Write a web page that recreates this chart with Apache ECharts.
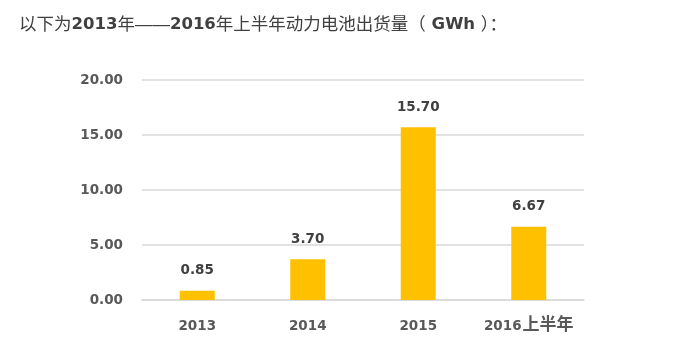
<!DOCTYPE html>
<html><head><meta charset="utf-8">
<script src="https://cdn.jsdelivr.net/npm/echarts@6/dist/echarts.min.js"></script>
<style>html,body{margin:0;padding:0;background:#fff;}#c{width:683px;height:356px;}</style>
</head><body><div id="c"></div>
<script>
const titleText = '以下为2013年——2016年上半年动力电池出货量（ GWh ）：';
const categories = ['2013', '2014', '2015', '2016上半年'];
const shipments = [0.85, 3.70, 15.70, 6.67];
const yTicks = [0, 5, 10, 15, 20];

// split text into latin (n) and CJK (c) runs for rich text styling
function richify(s) {
  return s.replace(/([A-Za-z0-9 .]+)|([^A-Za-z0-9 .]+)/g, (m, a, b) => a ? '{n|' + a + '}' : '{c|' + b + '}');
}

const numFont = '"DejaVu Sans", sans-serif';
const cjkFont = '"Liberation Sans", "Noto Sans CJK SC", sans-serif';
const chart = echarts.init(document.getElementById('c'));
chart.setOption({
  animation: false,
  title: {
    text: richify(titleText), left: 14, top: 10,
    textStyle: {
      rich: {
        n: { fontSize: 16.5, fontWeight: 'bold', color: '#404040', fontFamily: numFont, lineHeight: 20, verticalAlign: 'middle' },
        c: { fontSize: 17.5, fontWeight: 'normal', color: '#404040', fontFamily: cjkFont, lineHeight: 20, verticalAlign: 'middle' }
      }
    }
  },
  grid: { left: 142, right: 99, top: 80, bottom: 56 },
  xAxis: {
    type: 'category', data: categories,
    axisLine: { lineStyle: { color: '#d9d9d9', width: 1.5 } },
    axisTick: { show: false },
    axisLabel: { margin: 17, interval: 0, formatter: v => richify(v),
      rich: {
        n: { fontSize: 13.5, fontWeight: 'bold', color: '#595959', fontFamily: numFont, lineHeight: 18, verticalAlign: 'middle' },
        c: { fontSize: 17, fontWeight: 'bold', color: '#595959', fontFamily: '"Noto Sans CJK SC", sans-serif', lineHeight: 18, verticalAlign: 'middle', padding: [0, 0, 5, 1] }
      } }
  },
  yAxis: {
    type: 'value', min: yTicks[0], max: yTicks[yTicks.length - 1], interval: 5,
    axisLine: { show: false }, axisTick: { show: false },
    splitLine: { lineStyle: { color: '#d9d9d9', width: 1.5 } },
    axisLabel: { margin: 19, fontSize: 13.5, fontWeight: 'bold', color: '#595959', fontFamily: numFont,
      formatter: v => v.toFixed(2) }
  },
  series: [{
    type: 'bar', data: shipments, barWidth: 35,
    itemStyle: { color: '#FFC000' },
    label: { show: true, position: 'top', distance: 13, fontSize: 13.5, fontWeight: 'bold', color: '#404040',
      fontFamily: numFont,
      formatter: p => p.value.toFixed(2) }
  }]
});
</script></body></html>
